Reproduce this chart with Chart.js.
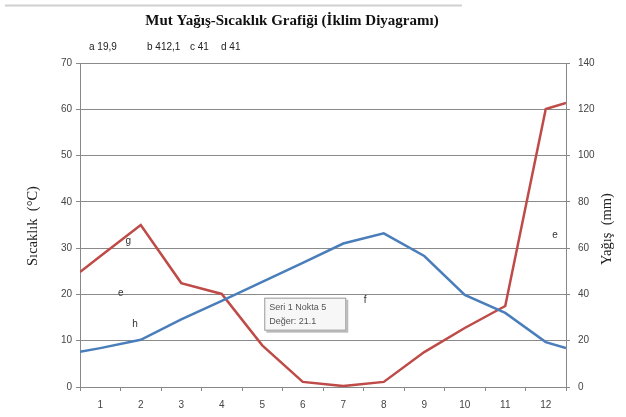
<!DOCTYPE html>
<html>
<head>
<meta charset="utf-8">
<script src="https://cdn.jsdelivr.net/npm/chart.js@4.4.1/dist/chart.umd.min.js"></script>
<style>
html,body{margin:0;padding:0;background:#fff;}
#wrap{width:626px;height:417px;position:relative;}
</style>
</head>
<body>
<div id="wrap"><canvas id="c" width="626" height="417"></canvas></div>
<script>
const months = [1,2,3,4,5,6,7,8,9,10,11,12];
const monthLabels = ['1','2','3','4','5','6','7','8','9','10','11','12'];
const temperature = [8.4,10.2,14.6,18.6,22.7,26.8,31.0,33.2,28.3,19.9,16.0,9.7];
const precipitation = [56.5,70.0,44.9,40.2,18.0,2.2,0.4,2.2,15.1,25.5,35.0,120.1];
const edgeX = [0.5,12.5];
const tempEdges = [7.6,8.4];
const precipEdges = [49.7,122.7];
const tempTicks = [0,10,20,30,40,50,60,70];
const precipTicks = [0,20,40,60,80,100,120,140];
const titleText = 'Mut Yağış-Sıcaklık Grafiği (İklim Diyagramı)';
const summaryText = [['a','19,9'],['b','412,1'],['c','41'],['d','41']];
const tooltipLines = ['Seri 1 Nokta 5','Değer: 21.1'];

function series(vals, edges){
  return [{x:edgeX[0],y:edges[0]}].concat(months.map((m,i)=>({x:m,y:vals[i]}))).concat([{x:edgeX[1],y:edges[1]}]);
}

const textPlugin = {
  id:'texts',
  afterDraw(chart){
    const ctx = chart.ctx;
    const xs = chart.scales.x, ys = chart.scales.y;
    ctx.save();
    // top light line
    ctx.strokeStyle='#d0d0d0'; ctx.lineWidth=2;
    ctx.beginPath(); ctx.moveTo(5,5.5); ctx.lineTo(462,5.5); ctx.stroke();
    // title
    ctx.fillStyle='#111';
    ctx.font='bold 15px "Liberation Serif"';
    ctx.textAlign='center'; ctx.textBaseline='middle';
    ctx.fillText(titleText, 292, 21);
    // summary
    ctx.font='10px "Liberation Sans"';
    ctx.textAlign='left';
    ctx.fillStyle='#222';
    const sx=[89,147,190,221];
    summaryText.forEach((p,i)=>{ ctx.fillText(p[0]+' '+p[1], sx[i], 47); });
    // axis titles
    ctx.font='14.5px "Liberation Serif"';
    ctx.fillStyle='#222';
    ctx.textAlign='center';
    ctx.save(); ctx.translate(33, 226); ctx.rotate(-Math.PI/2);
    ctx.fillText('Sıcaklık  (°C)',0,0); ctx.restore();
    ctx.save(); ctx.translate(607, 229); ctx.rotate(-Math.PI/2);
    ctx.fillText('Yağış  (mm)',0,0); ctx.restore();
    // letters inside plot
    ctx.font='10px "Liberation Sans"';
    ctx.fillStyle='#333';
    const letters=[['g',1.69,31.5],['e',1.51,20.3],['h',1.86,13.6],['f',7.54,18.8],['e',12.23,32.8]];
    letters.forEach(l=>{ ctx.fillText(l[0], xs.getPixelForValue(l[1]), ys.getPixelForValue(l[2])); });
    // tooltip box
    const bx=xs.getPixelForValue(5.05), by=ys.getPixelForValue(19.3);
    ctx.fillStyle='#bbb'; ctx.fillRect(bx+2,by+2,82,33);
    ctx.fillStyle='#f7f7f7'; ctx.fillRect(bx,by,82,33);
    ctx.strokeStyle='#999'; ctx.lineWidth=1; ctx.strokeRect(bx+0.5,by+0.5,81,32);
    ctx.fillStyle='#555'; ctx.font='9px "Liberation Sans"'; ctx.textAlign='left';
    ctx.fillText(tooltipLines[0], bx+5, by+10);
    ctx.fillText(tooltipLines[1], bx+5, by+24);
    ctx.restore();
  }
};

new Chart(document.getElementById('c'), {
  type:'line',
  data:{
    datasets:[
      {label:'Sıcaklık', data:series(temperature,tempEdges), yAxisID:'y', borderColor:'#4a7ebb', borderWidth:2.5, pointRadius:0, tension:0},
      {label:'Yağış', data:series(precipitation,precipEdges), yAxisID:'y2', borderColor:'#be4b48', borderWidth:2.5, pointRadius:0, tension:0}
    ]
  },
  options:{
    responsive:false, animation:false, events:[],
    layout:{padding:{top:63,left:0,right:0,bottom:0}},
    plugins:{legend:{display:false}, tooltip:{enabled:false}, title:{display:false}},
    scales:{
      x:{type:'linear', min:0.5, max:12.5,
        afterBuildTicks(s){ s.ticks = months.map(v=>({value:v})); },
        afterFit(s){ s.height = 30; },
        grid:{offset:true, drawOnChartArea:false, drawTicks:true, tickLength:4, color:'#888'},
        border:{display:true, color:'#888'},
        ticks:{autoSkip:false, maxRotation:0, padding:8, color:'#444', font:{family:'Liberation Sans', size:10},
          callback(v){ return monthLabels[months.indexOf(v)]; }}
      },
      y:{position:'left', min:0, max:70,
        afterBuildTicks(s){ s.ticks = tempTicks.map(v=>({value:v})); },
        afterFit(s){ s.width = 80; },
        grid:{color:'#8a8a8a', tickLength:4, drawTicks:true},
        border:{display:true, color:'#888'},
        ticks:{padding:4, color:'#444', font:{family:'Liberation Sans', size:10}}
      },
      y2:{position:'right', min:0, max:140,
        afterBuildTicks(s){ s.ticks = precipTicks.map(v=>({value:v})); },
        afterFit(s){ s.width = 60; },
        grid:{drawOnChartArea:false, tickLength:4, drawTicks:true, color:'#888'},
        border:{display:true, color:'#888'},
        ticks:{padding:8, color:'#444', font:{family:'Liberation Sans', size:10}}
      }
    }
  },
  plugins:[textPlugin]
});
</script>
</body>
</html>
